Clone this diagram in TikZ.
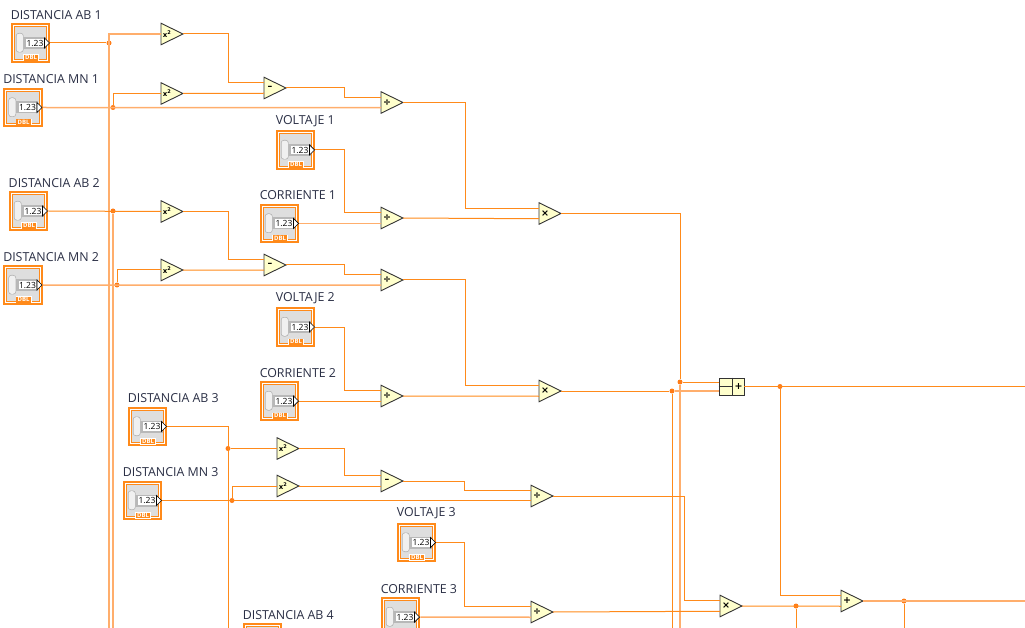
\documentclass[tikz,border=0pt]{standalone}
\usepackage{fontspec}
\setmainfont{Open Sans}
\newfontfamily\symfont{DejaVu Sans}
\usetikzlibrary{calc}
\definecolor{wirec}{HTML}{FF8A1A}
\definecolor{wirelt}{HTML}{FFAE6C}
\definecolor{primc}{HTML}{FFFFCC}
\definecolor{txtc}{HTML}{2A2F45}
\tikzset{
	wire/.style={color=wirec, line width=1pt},
	wireb/.style={color=wirelt, line width=1.5pt},
	dot/.style={circle, fill=wirec!90!red, inner sep=0, minimum size=5pt},
	ctlbox/.style={fill=wirec, inner sep=0, minimum size=39.5pt},
	primbox/.style={draw=black!80, line width=0.9pt, fill=primc, line join=miter},
	lbl/.style={anchor=south west, inner sep=0, text=txtc, font=\fontsize{12.4}{13}\selectfont},
	sym/.style={inner sep=0, font=\symfont\fontsize{9.5}{10}\selectfont\bfseries}
}
\def\ctlbody(#1)(#2,#3)#4{
	\node[ctlbox] (#1) at (#2,#3) {};
	\begin{scope}[shift={(#2,#3)}]
		\fill[white] (-17.8,-17.8) rectangle (17.8,17.8);
		\fill[wirec] (-16.8,-16.8) rectangle (16.8,16.8);
		\fill[black!13] (-15.8,-15.8) rectangle (15.8,15.8);
		\fill[black!28] (-8,-6) rectangle (15,6);
		\fill[black!30, rounded corners=3pt] (-14.7,-10) rectangle (-6.8,9.5);
		\fill[black!6, rounded corners=2.5pt] (-14,-9.3) rectangle (-7.5,8.8);
	\end{scope}
	\node[lbl] (#1-lbl) at ($(#1.north west)+(0,-3.3)$) {#4};
}
\def\ctlval(#1)(#2,#3){
	\begin{scope}[shift={(#2,#3)}]
		\node[fill=white, inner sep=0, minimum width=17.5pt, minimum height=8.5pt, font=\fontsize{8.5}{8.5}\selectfont] (#1-val) at (4.5,0) {1.23};
		\draw[black, fill=white, line width=0.7pt] (14,-5) -- (19,0) -- (14,5) -- cycle;
	\end{scope}
}
\def\ctldbl(#1)(#2,#3){
	\begin{scope}[shift={(#2,#3)}]
		\fill[white] (-7.5,11.5) rectangle (8.5,18);
		\node[fill=wirec, text=white, inner sep=0, minimum width=14.5pt, minimum height=5.6pt, font=\fontsize{6}{6}\selectfont\bfseries] (#1-dbl) at (0.5,14.8) {DBL};
	\end{scope}
}
\def\ctl(#1)(#2,#3)#4{
	\ctlbody(#1)(#2,#3){#4}
	\ctlval(#1)(#2,#3)
	\ctldbl(#1)(#2,#3)
}
\def\prim(#1)(#2,#3)#4{
	\begin{scope}[shift={(#2,#3)}]
		\draw[primbox] (-11,-10.75) -- (11,0) -- (-11,10.75) -- cycle;
		\coordinate (#1-a) at (-11,-5.25);
		\coordinate (#1-b) at (-11,5.25);
		\coordinate (#1-i) at (-11,0);
		\coordinate (#1-o) at (11,0);
		\node[sym] (#1) at (-5,0) {#4};
	\end{scope}
}
\def\sqr{\fontsize{7}{8}\selectfont x\textsuperscript{2}}
\begin{document}
\begin{tikzpicture}[x=1pt, y=-1pt]
	%%%%% FRAME %%%%%
	\useasboundingbox (0,0) rectangle (1025,628);
	\clip (0,0) rectangle (1025,628);
	\coordinate (bot) at (0,640);
	\coordinate (rgt) at (1040,0);
	
	%%%%% CONTROLS %%%%%
	\ctl(ab1)(30.5,43){DISTANCIA AB 1}
	\ctl(mn1)(23,107.5){DISTANCIA MN 1}
	\ctl(ab2)(28.5,211){DISTANCIA AB 2}
	\ctl(mn2)(23,285){DISTANCIA MN 2}
	\ctl(vol1)(295.5,150){VOLTAJE 1}
	\ctl(cor1)(279.5,223.5){CORRIENTE 1}
	\ctl(vol2)(295.5,327){VOLTAJE 2}
	\ctl(cor2)(279.5,401){CORRIENTE 2}
	\ctl(ab3)(147.5,426.5){DISTANCIA AB 3}
	\ctl(mn3)(142.5,500.5){DISTANCIA MN 3}
	\ctl(vol3)(416.5,542.5){VOLTAJE 3}
	\ctlbody(cor3)(400.5,617){CORRIENTE 3}
	\ctlval(cor3)(400.5,617)
	\ctlbody(ab4)(262.5,643){DISTANCIA AB 4}
	
	%%%%% PRIMITIVES %%%%%
	\prim(sqa)(172,34){\sqr}
	\prim(sqb)(172,93.5){\sqr}
	\prim(sqc)(172,211.5){\sqr}
	\prim(sqd)(172,270){\sqr}
	\prim(sqe)(288,448.5){\sqr}
	\prim(sqf)(288,486){\sqr}
	\prim(suba)(275,88){–}
	\prim(subb)(275,265){–}
	\prim(subc)(392,481){–}
	\prim(diva)(392,102.5){÷}
	\prim(divb)(392,218){÷}
	\prim(divc)(392,280){÷}
	\prim(divd)(392,396){÷}
	\prim(dive)(542,496){÷}
	\prim(divf)(542,612){÷}
	\prim(mula)(550,213.5){×}
	\prim(mulb)(550,391){×}
	\prim(mulc)(731,606){×}
	\prim(adda)(852,601){+}
	
	\node[draw=black!80, line width=0.9pt, fill=primc, inner sep=0, minimum width=25pt, minimum height=17pt] (cmp) at (731.5,386.5) {};
	\draw[black!80, line width=0.8pt] ($(cmp.north)+(0.5,0)$) -- ($(cmp.south)+(0.5,0)$);
	\draw[black!80, line width=0.8pt] (cmp.west) -- ($(cmp.center)+(0.5,0)$);
	\node[sym] (cmp-sym) at (738.5,386.5) {+};
	\coordinate (cmp-a) at ($(cmp.west)+(0,-4.5)$);
	\coordinate (cmp-b) at ($(cmp.west)+(0,4.5)$);
	
	%%%%% DOTS %%%%%
	\node[dot] (dab1) at (109,43) {};
	\node[dot] (dmn1) at (113,107.5) {};
	\node[dot] (dab2) at (113,211) {};
	\node[dot] (dmn2) at (117,285) {};
	\node[dot] (dab3) at (228,448.5) {};
	\node[dot] (dmn3) at (232,500.5) {};
	\node[dot] (dmula) at (680,382) {};
	\node[dot] (dmulb) at (672,391) {};
	\node[dot] (dcmp) at (780,386.5) {};
	\node[dot] (dmulc) at (796,606) {};
	\node[dot] (dadd) at (904,601) {};
	
	%%%%% WIRES %%%%%
	\draw[wire] (ab1.east) -- (dab1);
	\draw[wireb] (sqa-i) -| (dab1 |- bot);
	\draw[wire] (sqa-o) -- ++(45,0) |- (suba-a);
	
	\draw[wireb] (mn1.east) -- (diva-b);
	\draw[wire] (dmn1) |- (sqb-i);
	\draw[wire] (sqb-o) -- (suba-b);
	\draw[wire] (suba-o) -- ++(58,0) |- (diva-a);
	\draw[wire] (diva-o) -- ++(62,0) |- (mula-a);
	\draw[wire] (vol1.east) -- ++(29,0) |- (divb-a);
	\draw[wireb] (cor1.east) -- (divb-i |- cor1.east);
	\draw[wire] (divb-o) -- (mula-b);
	\draw[wire] (mula-o) -| (dmula);
	\draw[wireb] (dmula) -- (dmula |- bot);
	\draw[wire] (dmula) -- (cmp-a);
	
	\draw[wire] (ab2.east) -- (sqc-i);
	\draw[wireb] (dab2) -- (dab2 |- bot);
	\draw[wire] (sqc-o) -- ++(45,0) |- (subb-a);
	\draw[wireb] (mn2.east) -- (divc-b);
	\draw[wire] (dmn2) |- (sqd-i);
	\draw[wire] (sqd-o) -- (subb-b);
	\draw[wire] (subb-o) -- ++(58,0) |- (divc-a);
	\draw[wire] (divc-o) -- ++(62,0) |- (mulb-a);
	\draw[wire] (vol2.east) -- ++(29,0) |- (divd-a);
	\draw[wire] (cor2.east) -- (divd-i |- cor2.east);
	\draw[wire] (divd-o) -- (mulb-b);
	\draw[wire] (mulb-o) -- (dmulb);
	\draw[wireb] (dmulb) -- (cmp-b);
	\draw[wire] (dmulb) -- (dmulb |- bot);
	
	\draw[wire] (cmp.east) -- (rgt |- cmp.east);
	\draw[wire] (dcmp) |- (adda-a);
	
	\draw[wire] (ab3.east) -| (dab3 |- bot);
	\draw[wire] (dab3) -- (sqe-i);
	\draw[wire] (sqe-o) -- ++(45,0) |- (subc-a);
	\draw[wire] (mn3.east) -- (dive-i |- mn3.east);
	\draw[wire] (dmn3) |- (sqf-i);
	\draw[wire] (sqf-o) -- (subc-i |- sqf-o);
	\draw[wire] (subc-o) -- ++(61,0) |- (dive-a);
	\draw[wire] (dive-o) -- ++(131,0) |- (mulc-a);
	\draw[wire] (vol3.east) -- ++(28,0) |- (divf-a);
	\draw[wireb] (cor3.east) -- (divf-b);
	\draw[wire] (divf-o) -- (mulc-b);
	\draw[wire] (mulc-o) -- (adda-b);
	\draw[wire] (dmulc) -- (dmulc |- bot);
	\draw[wireb] (adda-o) -- (rgt |- adda-o);
	\draw[wire] (dadd) -- (dadd |- bot);
\end{tikzpicture}
\end{document}
